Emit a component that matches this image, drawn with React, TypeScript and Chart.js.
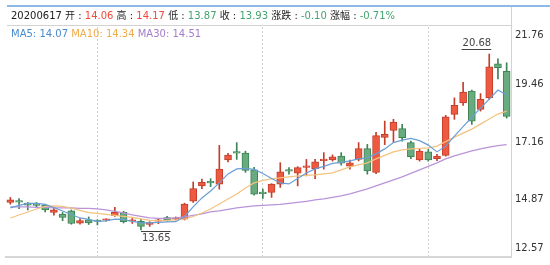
import React, { useEffect, useRef } from 'react';
import { Chart, registerables } from 'chart.js';

Chart.register(...registerables);

const dates = [
  '20200604', '20200605', '20200608', '20200609', '20200610', '20200611', '20200612', '20200615', '20200616', '20200617',
  '20200618', '20200619', '20200622', '20200623', '20200624', '20200629', '20200630', '20200701', '20200702', '20200703',
  '20200706', '20200707', '20200708', '20200709', '20200710', '20200713', '20200714', '20200715', '20200716', '20200717',
  '20200720', '20200721', '20200722', '20200723', '20200724', '20200727', '20200728', '20200729', '20200730', '20200731',
  '20200803', '20200804', '20200805', '20200806', '20200807', '20200810', '20200811', '20200812', '20200813', '20200814',
  '20200817', '20200818', '20200819', '20200820', '20200821', '20200824', '20200825', '20200826',
];

const opens = [
  14.75, 14.80, 14.72, 14.68, 14.64, 14.35, 14.28, 14.41, 13.92, 14.06,
  14.01, 14.04, 14.22, 14.35, 14.00, 14.00, 13.87, 14.00, 14.15, 14.08,
  14.08, 14.80, 15.41, 15.56, 15.48, 16.45, 16.75, 16.72, 16.05, 15.12,
  15.15, 15.48, 16.03, 15.92, 16.15, 16.10, 16.42, 16.45, 16.60, 16.20,
  16.47, 16.90, 15.95, 17.35, 17.63, 17.70, 17.14, 16.45, 16.77, 16.50,
  16.63, 18.27, 18.73, 19.20, 18.47, 18.93, 20.29, 19.99,
];
const highs = [
  14.95, 14.90, 14.75, 14.75, 14.68, 14.55, 14.35, 14.45, 14.11, 14.17,
  14.06, 14.10, 14.55, 14.40, 14.11, 14.08, 13.98, 14.08, 14.20, 14.17,
  14.72, 15.57, 15.68, 15.70, 17.03, 16.71, 17.14, 16.80, 16.15, 15.28,
  15.50, 16.34, 16.14, 16.18, 16.47, 16.47, 16.74, 16.65, 16.74, 16.44,
  17.14, 17.07, 17.55, 18.00, 18.07, 17.87, 17.20, 16.87, 16.87, 16.67,
  18.23, 18.93, 19.55, 19.24, 19.10, 20.68, 20.49, 20.33,
];
const lows = [
  14.68, 14.50, 14.45, 14.55, 14.37, 14.24, 14.02, 13.88, 13.88, 13.87,
  13.85, 14.00, 14.19, 13.93, 13.91, 13.65, 13.79, 13.90, 14.00, 14.05,
  14.05, 14.75, 15.30, 15.38, 15.28, 16.37, 16.47, 15.95, 15.04, 14.91,
  14.95, 15.35, 15.88, 15.41, 15.81, 15.70, 16.08, 16.40, 16.24, 16.08,
  16.41, 15.88, 15.90, 17.06, 17.16, 17.20, 16.50, 16.40, 16.40, 16.42,
  16.60, 18.07, 18.63, 17.87, 18.40, 18.87, 19.69, 18.12,
];
const closes = [
  14.85, 14.76, 14.64, 14.63, 14.45, 14.45, 14.15, 13.91, 14.03, 13.93,
  13.99, 14.07, 14.35, 13.98, 14.02, 13.79, 13.95, 14.03, 14.05, 14.14,
  14.68, 15.30, 15.55, 15.53, 16.08, 16.64, 16.72, 16.03, 15.08, 15.10,
  15.48, 15.97, 16.00, 16.14, 16.20, 16.37, 16.45, 16.57, 16.32, 16.33,
  16.90, 16.01, 17.42, 17.47, 17.96, 17.34, 16.58, 16.80, 16.45, 16.60,
  18.17, 18.63, 19.16, 18.00, 18.87, 20.17, 20.13, 18.19,
];

const ma5 = [
  14.53, 14.63, 14.71, 14.71, 14.67, 14.55, 14.41, 14.27, 14.13, 14.07,
  13.99, 14.01, 14.08, 14.07, 13.99, 13.93, 13.93, 13.95, 13.97, 13.98,
  14.19, 14.57, 14.93, 15.21, 15.53, 15.89, 16.09, 16.11, 16.07, 15.91,
  15.71, 15.53, 15.49, 15.71, 15.93, 16.09, 16.19, 16.31, 16.35, 16.41,
  16.49, 16.53, 16.69, 16.89, 17.14, 17.24, 17.31, 17.22, 17.04, 16.77,
  17.00, 17.40, 17.78, 18.16, 18.52, 18.88, 19.24, 19.04,
];
const ma10 = [
  14.13, 14.25, 14.37, 14.49, 14.59, 14.61, 14.59, 14.52, 14.43, 14.34,
  14.31, 14.27, 14.23, 14.19, 14.15, 14.09, 14.03, 14.01, 14.03, 14.05,
  14.09, 14.19, 14.33, 14.49, 14.69, 14.89, 15.09, 15.33, 15.53, 15.63,
  15.69, 15.73, 15.77, 15.81, 15.83, 15.85, 15.89, 15.93, 16.05, 16.17,
  16.25, 16.33, 16.49, 16.63, 16.77, 16.85, 16.89, 16.91, 16.93, 17.00,
  17.18, 17.36, 17.52, 17.68, 17.88, 18.08, 18.28, 18.40,
];
const ma30 = [
  14.57, 14.57, 14.57, 14.55, 14.55, 14.53, 14.53, 14.53, 14.51, 14.51,
  14.49, 14.45, 14.39, 14.33, 14.25, 14.19, 14.13, 14.11, 14.11, 14.13,
  14.17, 14.23, 14.29, 14.37, 14.41, 14.47, 14.53, 14.57, 14.61, 14.63,
  14.65, 14.67, 14.71, 14.75, 14.79, 14.85, 14.89, 14.95, 15.01, 15.09,
  15.19, 15.29, 15.41, 15.53, 15.65, 15.77, 15.91, 16.05, 16.19, 16.33,
  16.49, 16.61, 16.71, 16.81, 16.89, 16.96, 17.02, 17.06,
];

const yTicks = [12.57, 14.87, 17.16, 19.46, 21.76];
const guideDates = ['20200618', '20200717', '20200813'];
const infoDate = '20200617';

const UP = '#ee5a41';
const UP_EDGE = '#c23f2c';
const DOWN = '#67ab7e';
const DOWN_EDGE = '#3d8454';
const TXT_UP = '#ee4a3c';
const TXT_DOWN = '#45a36f';
const FONT = "'DejaVu Sans', 'Noto Sans CJK SC', sans-serif";

const fmt = (v: number) => v.toFixed(2);

const overlayPlugin = {
  id: 'overlay',
  afterDraw(chart: any) {
    const { ctx, chartArea: a, scales } = chart;
    const xs = scales.x;
    const ys = scales.y;
    ctx.save();

    // header frame
    ctx.fillStyle = '#8cb9e6';
    ctx.fillRect(a.left + 1, 5, chart.width - a.left - 1, 2);
    ctx.fillStyle = '#d2d2d2';
    ctx.fillRect(a.left + 1, 25, Math.round(a.right) - a.left - 1, 1);
    ctx.fillRect(Math.round(a.right), 7, 1, a.top - 7);

    // header texts
    const i = dates.indexOf(infoDate);
    const prev = closes[i - 1];
    const col = (v: number) => (v >= prev ? TXT_UP : TXT_DOWN);
    const chg = closes[i] - prev;
    const ink = '#222';
    const row1: [string, string][] = [
      [dates[i] + ' 开 : ', ink], [fmt(opens[i]), col(opens[i])],
      [' 高 : ', ink], [fmt(highs[i]), col(highs[i])],
      [' 低 : ', ink], [fmt(lows[i]), col(lows[i])],
      [' 收 : ', ink], [fmt(closes[i]), col(closes[i])],
      [' 涨跌 : ', ink], [fmt(chg), chg >= 0 ? TXT_UP : TXT_DOWN],
      [' 涨幅 : ', ink], [((chg / prev) * 100).toFixed(2) + '%', chg >= 0 ? TXT_UP : TXT_DOWN],
    ];
    const row2: [string, string][] = [
      ['MA5: ' + fmt(ma5[i]) + ' ', '#4a8bcb'],
      ['MA10: ' + fmt(ma10[i]) + ' ', '#f0ab4c'],
      ['MA30: ' + fmt(ma30[i]), '#a67dc9'],
    ];
    ctx.font = '10px ' + FONT;
    ctx.textBaseline = 'middle';
    ctx.textAlign = 'left';
    let x = 11;
    for (const [t, c] of row1) {
      ctx.fillStyle = c;
      ctx.fillText(t, x, 16);
      x += ctx.measureText(t).width;
    }
    x = 11;
    for (const [t, c] of row2) {
      ctx.fillStyle = c;
      ctx.fillText(t, x, 34);
      x += ctx.measureText(t).width;
    }

    // min / max markers
    const lowVal = Math.min(...lows);
    const lowIdx = lows.indexOf(lowVal);
    const highVal = Math.max(...highs);
    const highIdx = highs.indexOf(highVal);
    ctx.strokeStyle = '#444';
    ctx.fillStyle = '#444';
    ctx.lineWidth = 1;

    const lx = xs.getPixelForValue(lowIdx);
    const ly = Math.round(ys.getPixelForValue(lowVal)) + 1.5;
    const lt = fmt(lowVal);
    const lw = ctx.measureText(lt).width;
    ctx.beginPath();
    ctx.moveTo(lx, ly);
    ctx.lineTo(lx + lw + 1, ly);
    ctx.stroke();
    ctx.textBaseline = 'top';
    ctx.fillText(lt, lx + 1, ly + 2);

    const hx = xs.getPixelForValue(highIdx);
    const hy = Math.round(ys.getPixelForValue(highVal)) - 4.5;
    const ht = fmt(highVal);
    const hw = ctx.measureText(ht).width;
    ctx.beginPath();
    ctx.moveTo(hx + 2 - hw - 1, hy);
    ctx.lineTo(hx + 2, hy);
    ctx.stroke();
    ctx.textBaseline = 'bottom';
    ctx.textAlign = 'right';
    ctx.fillText(ht, hx + 2, hy - 1);

    ctx.restore();
  },
};

export default function App() {
  const ref = useRef<HTMLCanvasElement>(null);

  useEffect(() => {
    document.body.style.margin = '0';
    const isUp = closes.map((c, i) => c >= opens[i]);
    const chart = new Chart(ref.current as HTMLCanvasElement, {
      type: 'bar',
      data: {
        labels: dates,
        datasets: [
          {
            type: 'line', label: 'MA5', data: ma5, borderColor: '#6a9fd6', borderWidth: 1.2,
            pointRadius: 0, tension: 0, order: 0,
          },
          {
            type: 'line', label: 'MA10', data: ma10, borderColor: '#f4c27f', borderWidth: 1.2,
            pointRadius: 0, tension: 0, order: 1,
          },
          {
            type: 'line', label: 'MA30', data: ma30, borderColor: '#b994da', borderWidth: 1.2,
            pointRadius: 0, tension: 0, order: 2,
          },
          {
            type: 'bar', label: 'body', data: opens.map((o, i) => [o, closes[i]]),
            backgroundColor: isUp.map((u) => (u ? UP : DOWN)),
            borderColor: isUp.map((u) => (u ? UP_EDGE : DOWN_EDGE)),
            borderWidth: 1, borderSkipped: false, barThickness: 7, minBarLength: 1.5,
            grouped: false, order: 3,
          } as any,
          {
            type: 'bar', label: 'wick', data: lows.map((l, i) => [l, highs[i]]),
            backgroundColor: isUp.map((u) => (u ? UP_EDGE : DOWN_EDGE)),
            borderWidth: 0, barThickness: 1, grouped: false, order: 4,
          } as any,
        ],
      },
      options: {
        responsive: false,
        animation: false,
        devicePixelRatio: 1,
        layout: { padding: { left: 6, top: 27, right: 0, bottom: 8 } },
        plugins: { legend: { display: false }, tooltip: { enabled: false } },
        scales: {
          x: {
            offset: true,
            grid: {
              offset: false,
              drawTicks: false,
              lineWidth: 1,
              color: (c: any) => (guideDates.includes(dates[c.index]) ? '#cfcfcf' : 'rgba(0,0,0,0)'),
            },
            border: { display: true, color: '#d6d6d6', width: 2, dash: [2, 2] },
            ticks: { display: false },
            afterFit: (s: any) => {
              s.height = 0;
              s.paddingLeft = 0;
              s.paddingRight = 0;
              s.paddingTop = 0;
              s.paddingBottom = 0;
            },
          },
          y: {
            position: 'right',
            min: yTicks[0],
            max: yTicks[yTicks.length - 1],
            afterBuildTicks: (s: any) => { s.ticks = yTicks.map((v) => ({ value: v })); },
            afterFit: (s: any) => {
              s.width = 39;
              s.paddingTop = 0;
              s.paddingBottom = 0;
              s.paddingLeft = 0;
              s.paddingRight = 0;
            },
            grid: { display: false, drawTicks: false },
            border: { display: true, color: '#d2d2d2', width: 1 },
            ticks: {
              autoSkip: false,
              padding: 4,
              color: '#333',
              font: { family: FONT, size: 10, lineHeight: 1.7 },
              callback: (v: any, i: number, arr: any[]) => {
                const s = fmt(Number(v));
                if (i === arr.length - 1) return ['', s];
                if (i === 0) return [s, ''];
                return s;
              },
            },
          },
        },
      },
      plugins: [overlayPlugin],
    } as any);
    return () => chart.destroy();
  }, []);

  return (
    <div style={{ width: 550, height: 265, background: '#fff' }}>
      <canvas ref={ref} width={550} height={265} style={{ display: 'block' }} />
    </div>
  );
}
